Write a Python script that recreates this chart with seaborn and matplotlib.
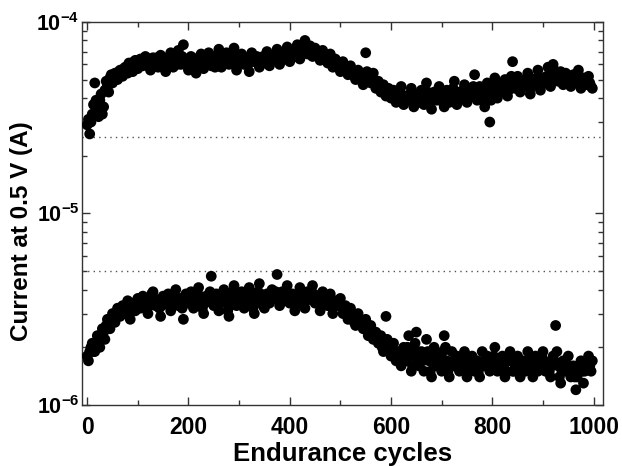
import numpy as np
import pandas as pd
import matplotlib
matplotlib.use("Agg")
import matplotlib.pyplot as plt
import matplotlib.ticker as mticker
import seaborn as sns

# cycle numbers: one reading every 5 cycles, plus the readings in between
cycles = np.arange(0, 1000, 5)
cycles_mid = cycles + 2.5

# upper branch (low-resistance state), current in units of 1e-5 A
lrs_current_e5 = [
    2.9, 2.6, 3.3, 4.8, 3.5, 3.9, 3.3, 4.4, 4.6, 5.1, 4.8, 5.4, 5.0, 5.6, 5.2, 5.8, 5.4, 6.0, 5.5, 6.3,
    5.7, 6.4, 5.9, 6.6, 6.0, 5.6, 6.5, 6.1, 5.8, 6.7, 6.2, 5.5, 6.3, 6.9, 5.8, 6.4, 7.1, 6.0, 7.6, 6.2,
    5.6, 6.6, 6.0, 5.4, 6.3, 6.8, 5.7, 6.2, 6.9, 5.9, 6.5, 6.1, 7.2, 5.8, 6.4, 6.9, 6.0, 6.6, 7.3, 5.6,
    6.3, 6.8, 6.0, 6.5, 5.5, 6.9, 6.2, 6.6, 5.8, 6.4, 6.1, 7.0, 5.9, 6.7, 6.3, 7.2, 6.0, 6.8, 6.4, 7.4,
    6.2, 7.0, 6.6, 7.6, 6.4, 7.1, 8.0, 6.8, 7.5, 6.6, 7.3, 6.9, 6.3, 7.1, 6.5, 6.1, 6.8, 5.8, 6.4, 6.0,
    5.5, 6.2, 5.7, 5.3, 5.9, 5.4, 5.0, 5.6, 5.1, 4.7, 6.9, 5.2, 4.8, 5.4, 4.5, 4.9, 4.3, 4.7, 4.1, 4.5,
    4.0, 4.4, 3.8, 4.2, 4.6, 3.7, 4.1, 3.9, 4.5, 3.6, 4.2, 3.8, 4.4, 3.7, 4.8, 4.0, 3.5, 4.3, 3.9, 4.6,
    4.1, 3.6, 4.4, 3.8, 4.2, 4.9, 3.7, 4.3, 4.0, 4.7, 3.8, 4.5, 4.1, 5.3, 3.9, 4.6, 4.2, 3.6, 4.8, 3.0,
    4.4, 5.1, 4.0, 4.7, 4.3, 5.0, 4.1, 4.8, 6.2, 4.5, 5.2, 4.3, 4.9, 4.6, 5.4, 4.2, 5.0, 4.7, 5.6, 4.4,
    5.1, 4.8, 5.8, 4.6, 6.0, 5.3, 4.9, 5.5, 4.7, 5.4, 5.0, 4.6, 5.3, 4.8, 5.6, 4.5, 5.1, 4.7, 5.2, 4.6,
]
lrs_mid_e5 = [
    3.1, 3.0, 3.7, 3.9, 3.2, 4.2, 3.6, 4.9, 4.3, 5.3, 5.0, 5.1, 5.5, 5.3, 5.7, 5.5, 6.1, 5.7, 6.2, 5.9,
    6.0, 6.2, 6.3, 6.1, 6.4, 6.2, 5.9, 6.5, 6.3, 6.1, 5.9, 6.1, 6.6, 6.2, 6.6, 6.0, 6.5, 6.6, 6.4, 5.9,
    6.1, 6.3, 5.7, 6.0, 6.6, 6.2, 6.0, 6.6, 6.3, 6.2, 5.8, 6.7, 6.4, 6.1, 6.6, 6.3, 6.4, 6.9, 6.1, 6.0,
    6.6, 6.3, 6.2, 6.0, 6.3, 6.5, 6.4, 6.1, 6.2, 6.6, 6.5, 6.4, 6.3, 6.5, 6.8, 6.5, 6.5, 6.5, 6.9, 6.7,
    6.6, 6.7, 7.1, 6.9, 6.8, 7.5, 7.3, 7.2, 7.0, 6.9, 7.0, 6.6, 6.7, 6.8, 6.3, 6.5, 6.2, 6.2, 6.1, 5.8,
    5.9, 5.8, 5.5, 5.6, 5.6, 5.2, 5.3, 5.3, 4.9, 5.0, 5.5, 5.0, 5.1, 4.9, 4.7, 4.6, 4.5, 4.4, 4.3, 4.2,
    4.2, 4.1, 4.0, 4.4, 4.1, 3.9, 4.0, 4.2, 4.0, 3.9, 4.0, 4.1, 4.0, 4.2, 4.3, 3.8, 3.9, 4.1, 4.2, 4.3,
    3.8, 4.0, 4.1, 4.0, 4.5, 4.2, 4.0, 4.1, 4.4, 4.2, 4.1, 4.3, 4.6, 4.4, 4.2, 4.4, 3.9, 4.1, 4.3, 3.9,
    4.7, 4.5, 4.3, 4.5, 4.6, 4.5, 4.4, 5.2, 4.9, 4.8, 4.7, 4.6, 4.7, 5.0, 4.8, 4.6, 4.8, 5.1, 4.9, 4.7,
    4.9, 5.2, 5.1, 5.2, 5.6, 5.0, 5.2, 5.1, 5.0, 5.2, 4.8, 4.9, 5.0, 5.1, 5.0, 4.8, 4.9, 4.9, 4.8, 4.5,
]

# lower branch (high-resistance state), current in units of 1e-6 A
hrs_current_e6 = [
    1.8, 1.9, 2.1, 1.9, 2.3, 2.0, 2.5, 2.2, 2.8, 2.5, 3.0, 2.7, 3.2, 2.9, 3.3, 3.0, 3.5, 2.8, 3.4, 3.1,
    3.6, 3.2, 3.7, 3.3, 3.0, 3.6, 3.9, 3.3, 3.5, 2.9, 3.7, 3.4, 3.8, 3.1, 3.5, 4.0, 3.3, 3.6, 2.8, 3.8,
    3.4, 3.9, 3.2, 3.6, 4.1, 3.4, 3.0, 3.7, 3.5, 4.7, 3.3, 3.8, 3.1, 3.6, 4.0, 3.4, 2.9, 3.7, 4.2, 3.3,
    3.6, 3.9, 3.2, 3.5, 4.1, 3.4, 3.0, 3.7, 4.3, 3.5, 3.2, 3.8, 3.4, 4.0, 3.6, 4.8, 3.3, 3.9, 3.5, 4.2,
    3.4, 3.8, 3.1, 3.6, 4.1, 3.5, 3.2, 3.9, 3.6, 4.2, 3.4, 3.7, 3.1, 3.9, 3.5, 3.3, 3.8, 3.0, 3.5, 3.3,
    3.6, 3.0, 3.3, 2.8, 3.2, 2.9, 2.6, 3.0, 2.7, 2.5, 2.8, 2.3, 2.6, 2.2, 2.4, 2.1, 2.3, 1.9, 2.9, 2.0,
    1.8, 2.1, 1.7, 1.9, 1.6, 2.0, 1.7, 2.3, 1.5, 1.8, 2.4, 1.6, 1.9, 1.5, 2.2, 1.7, 1.4, 2.0, 1.6, 1.8,
    1.5, 2.3, 1.7, 1.4, 1.9, 1.6, 1.8, 1.5, 1.7, 1.9, 1.4, 1.6, 1.8, 1.5, 1.7, 1.4, 1.9, 1.6, 1.8, 1.5,
    1.7, 2.0, 1.5, 1.6, 1.8, 1.4, 1.7, 1.9, 1.5, 1.6, 1.8, 1.4, 1.7, 1.5, 1.9, 1.6, 1.4, 1.8, 1.5, 1.7,
    1.9, 1.5, 1.6, 1.4, 1.8, 2.6, 1.6, 1.3, 1.7, 1.5, 1.8, 1.4, 1.6, 1.2, 1.5, 1.7, 1.3, 1.6, 1.8, 1.5,
]
hrs_mid_e6 = [
    1.7, 2.0, 1.9, 2.1, 2.2, 2.2, 2.4, 2.6, 2.6, 2.8, 2.9, 3.0, 3.0, 3.1, 3.1, 3.3, 3.1, 3.2, 3.2, 3.4,
    3.4, 3.5, 3.4, 3.2, 3.3, 3.8, 3.6, 3.4, 3.2, 3.3, 3.5, 3.6, 3.4, 3.3, 3.7, 3.6, 3.5, 3.2, 3.4, 3.6,
    3.6, 3.5, 3.4, 3.8, 3.7, 3.2, 3.4, 3.6, 3.9, 3.5, 3.6, 3.4, 3.4, 3.8, 3.7, 3.1, 3.3, 3.9, 3.7, 3.5,
    3.7, 3.5, 3.4, 3.8, 3.7, 3.2, 3.4, 3.9, 3.8, 3.3, 3.5, 3.6, 3.7, 3.8, 3.9, 3.6, 3.6, 3.7, 3.8, 3.8,
    3.6, 3.4, 3.4, 3.8, 3.8, 3.3, 3.5, 3.7, 3.9, 3.8, 3.5, 3.4, 3.5, 3.7, 3.4, 3.5, 3.4, 3.3, 3.4, 3.4,
    3.3, 3.1, 3.0, 3.0, 3.0, 2.7, 2.8, 2.8, 2.6, 2.6, 2.5, 2.5, 2.4, 2.3, 2.2, 2.2, 2.0, 2.1, 2.2, 1.9,
    1.9, 1.9, 1.8, 1.7, 1.8, 1.8, 2.0, 1.9, 1.6, 2.1, 1.9, 1.7, 1.7, 1.8, 1.9, 1.5, 1.7, 1.8, 1.7, 1.6,
    1.9, 2.0, 1.5, 1.6, 1.7, 1.7, 1.6, 1.6, 1.8, 1.6, 1.5, 1.7, 1.6, 1.6, 1.5, 1.6, 1.7, 1.7, 1.6, 1.6,
    1.8, 1.7, 1.6, 1.7, 1.6, 1.5, 1.8, 1.7, 1.5, 1.7, 1.6, 1.5, 1.6, 1.7, 1.7, 1.5, 1.6, 1.6, 1.6, 1.8,
    1.7, 1.5, 1.5, 1.6, 1.7, 1.9, 1.4, 1.5, 1.6, 1.6, 1.6, 1.5, 1.4, 1.4, 1.6, 1.5, 1.5, 1.7, 1.6, 1.7,
]

# dotted reference levels (A)
thresholds = [2.5e-5, 5e-6]

n = len(cycles)
df = pd.DataFrame({
    "cycle": np.concatenate([cycles, cycles_mid, cycles, cycles_mid]),
    "current": np.concatenate([np.array(lrs_current_e5) * 1e-5,
                               np.array(lrs_mid_e5) * 1e-5,
                               np.array(hrs_current_e6) * 1e-6,
                               np.array(hrs_mid_e6) * 1e-6]),
    "state": ["LRS"] * (2 * n) + ["HRS"] * (2 * n),
})

sns.set_style("ticks")
plt.rcParams["font.family"] = ["Liberation Sans", "DejaVu Sans"]
plt.rcParams["font.weight"] = "bold"
plt.rcParams["mathtext.fontset"] = "custom"
plt.rcParams["mathtext.bf"] = "Liberation Sans:bold"
plt.rcParams["mathtext.rm"] = "Liberation Sans:bold"
plt.rcParams["text.color"] = "black"
plt.rcParams["axes.labelcolor"] = "black"
plt.rcParams["xtick.labelcolor"] = "black"
plt.rcParams["ytick.labelcolor"] = "black"

fig = plt.figure(figsize=(6.22, 4.66), dpi=100)
ax = fig.add_axes([0.132, 0.131, 0.837, 0.822])

for level in thresholds:
    ax.axhline(level, color="#555555", lw=1, ls=(0, (1, 3)), zorder=1)

sns.scatterplot(data=df, x="cycle", y="current", hue="state",
                palette={"LRS": "black", "HRS": "black"},
                s=60, linewidth=0, alpha=1, legend=False, ax=ax, zorder=3)

ax.set_yscale("log")
ax.set_ylim(1e-6, 1e-4)
ax.set_xlim(-10, 1018)

ax.xaxis.set_major_locator(mticker.MultipleLocator(200))
ax.xaxis.set_minor_locator(mticker.MultipleLocator(100))
ax.yaxis.set_major_locator(mticker.LogLocator(base=10, numticks=5))
ax.yaxis.set_minor_locator(mticker.LogLocator(base=10, subs=np.arange(2, 10), numticks=12))
ax.yaxis.set_minor_formatter(mticker.NullFormatter())
ax.yaxis.set_major_formatter(
    mticker.FuncFormatter(lambda v, p: r"$\mathbf{10^{%d}}$" % round(np.log10(v))))

ax.tick_params(which="both", direction="in", top=True, right=True,
               width=1, color="#333333", labelcolor="black")
ax.tick_params(which="major", length=6)
ax.tick_params(which="minor", length=3.5)
ax.tick_params(axis="x", pad=8, labelsize=16.5)
ax.tick_params(axis="y", pad=2, labelsize=15.5)

for sp in ax.spines.values():
    sp.set_color("#333333")
    sp.set_linewidth(1)

ax.set_xlabel("Endurance cycles", fontsize=18.5, fontweight="bold", labelpad=2, color="black")
ax.set_ylabel("Current at 0.5 V (A)", fontsize=17.5, fontweight="bold", color="black")
ax.yaxis.set_label_coords(-0.094, 0.455)

fig.savefig("out.png", dpi=100)
